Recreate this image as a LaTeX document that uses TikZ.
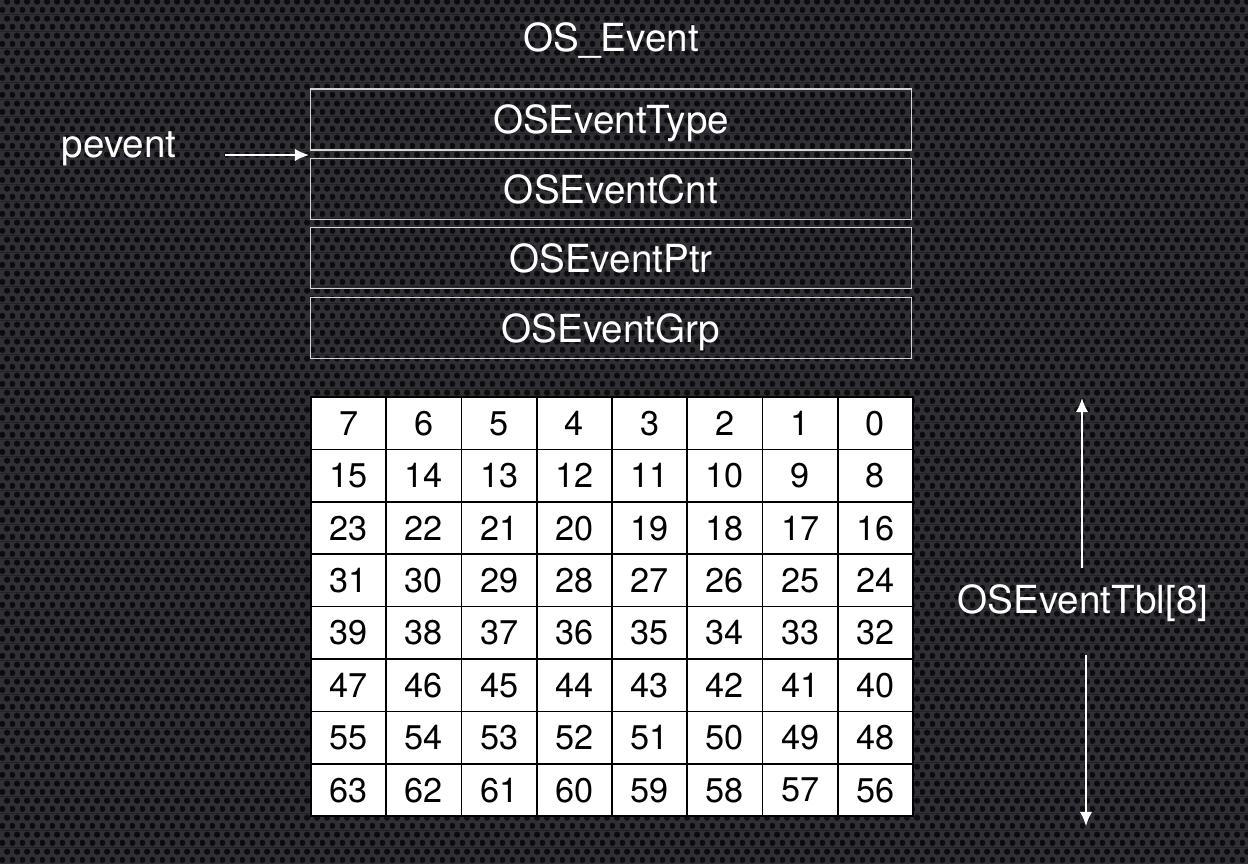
\documentclass[tikz,border=0pt]{standalone}
\usepackage{fontspec}
\setmainfont{TeX Gyre Heros}
\usetikzlibrary{arrows.meta, positioning, patterns.meta}
\definecolor{meshBack}{HTML}{1B1B1F}
\definecolor{meshRim}{HTML}{2E3035}
\definecolor{meshHole}{HTML}{0D0B0D}
\definecolor{fieldLine}{HTML}{D4D4D4}

\tikzdeclarepattern{
  name=mesh, type=colored,
  bottom left={(0pt,0pt)}, top right={(5.5pt,9.526pt)},
  tile size={(5.5pt,9.526pt)},
  code={
    \fill[meshRim] (0pt,0pt) rectangle (5.5pt,9.526pt);
    \fill[meshHole] (1.375pt,2.38pt) circle (1.8pt);
    \fill[meshHole] (4.125pt,7.14pt) circle (1.8pt);
  }
}

\begin{document}
\begin{tikzpicture}[x=0.02cm, y=-0.02cm,
    every node/.style={font=\fontsize{22}{26}\selectfont, text=white},
    field/.style={draw=fieldLine, line width=0.6pt, minimum width=12.04cm,
      minimum height=1.22cm, inner sep=0pt, text depth=0pt},
    cell/.style={draw=black, line width=1pt, fill=white, text=black,
      minimum width=1.505cm, minimum height=1.048cm, inner sep=0pt,
      text depth=0pt, font=\fontsize{19.5}{22}\selectfont},
    arr/.style={white, line width=1.1pt, -{Latex[length=8pt, width=7pt]}}]
    % background
    \fill[meshBack] (0,0) rectangle (1248,864);
    \fill[pattern=mesh] (0,0) rectangle (1248,864);

    % OS_Event structure
    \node (title) at (611,40) {OS\_Event};
    \foreach \i/\f in {0/OSEventType, 1/OSEventCnt, 2/OSEventPtr, 3/OSEventGrp}{
      \node[field] (f\i) at (611,119.5+69.4*\i) {\f};
    }
    \node (ptr) at (119,149) {pevent};
    \coordinate (ptrend) at (309,155);
    \draw[arr, shorten <=0.84cm] (ptr.east |- ptrend) -- (ptrend);

    % event table
    \foreach \r in {0,...,7}
      \foreach \c in {0,...,7}{
        \pgfmathtruncatemacro{\n}{8*\r+7-\c}
        \node[cell] (c\r\c) at (348.6+75.25*\c,423.2+52.4*\r) {\n};
      }
    \node (tbl) at (1083,603) {OSEventTbl[8]};
    \coordinate (tbltop) at (1082,398);
    \coordinate (tblbot) at (1086,826);
    \draw[arr, shorten <=0.2cm] (tbl.north -| tbltop) -- (tbltop);
    \draw[arr, shorten <=0.55cm] (tbl.south -| tblbot) -- (tblbot);
  \end{tikzpicture}
\end{document}
